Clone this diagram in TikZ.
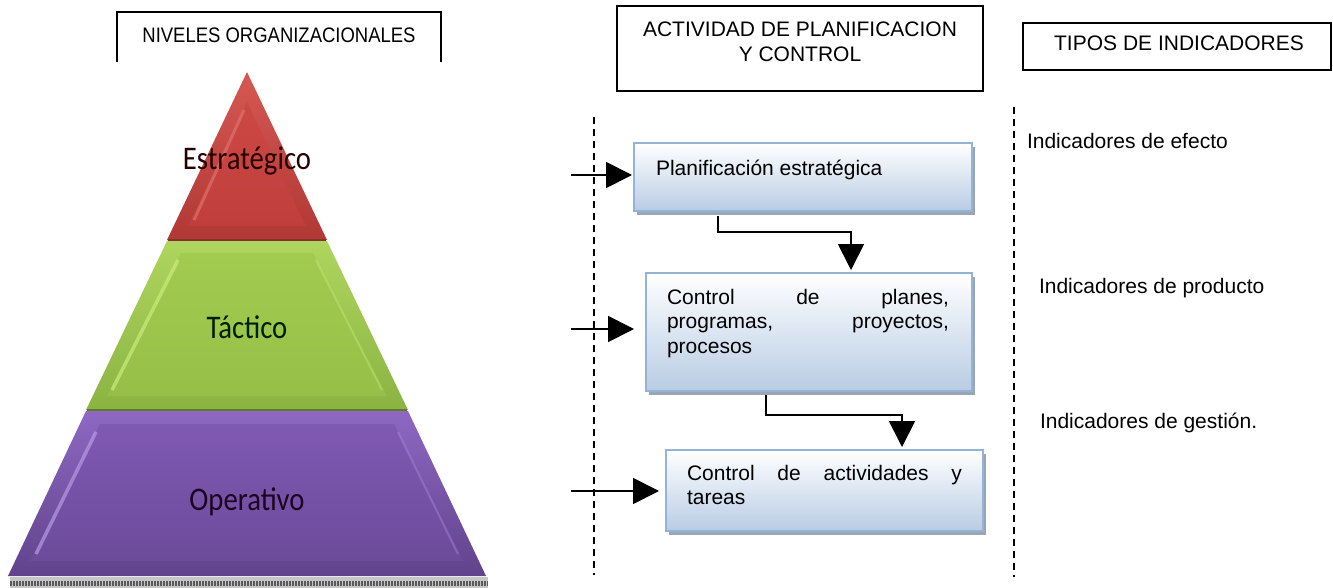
\documentclass[tikz,border=0pt]{standalone}
\usepackage{fontspec}
\setmainfont{Liberation Sans}
\newfontfamily\calib{Carlito}
\usetikzlibrary{arrows.meta,shadows,calc}
\definecolor{redT}{HTML}{D65853}\definecolor{redB}{HTML}{B03835}
\definecolor{redIT}{HTML}{CC4844}\definecolor{redIB}{HTML}{C03F3C}
\definecolor{redHL}{HTML}{EC8B87}\definecolor{redD}{HTML}{8A2F2D}
\definecolor{grnT}{HTML}{AED65E}\definecolor{grnB}{HTML}{8BB342}
\definecolor{grnIT}{HTML}{A2CC50}\definecolor{grnIB}{HTML}{95BF47}
\definecolor{grnHL}{HTML}{D2F283}\definecolor{grnD}{HTML}{5E7A28}
\definecolor{purT}{HTML}{8E68C2}\definecolor{purB}{HTML}{60438C}
\definecolor{purIT}{HTML}{8059B3}\definecolor{purIB}{HTML}{6C4B9B}
\definecolor{purHL}{HTML}{C2A6EE}\definecolor{purD}{HTML}{4E3573}
\definecolor{boxborder}{HTML}{95B3D7}\definecolor{boxbot}{HTML}{B8CCE4}
\definecolor{shadowc}{HTML}{9AA5B5}
\begin{document}
\begin{tikzpicture}[x=1pt,y=-1pt,
  hdr/.style={draw=black, line width=1.6pt, inner sep=0pt, outer sep=0pt},
  txt/.style={inner sep=0pt, outer sep=0pt, font=\fontsize{21}{24.5}\selectfont},
  pbox/.style={draw=boxborder, line width=2.2pt, top color=white, bottom color=boxbot,
    inner sep=0pt, outer sep=0pt,
    general shadow={fill=shadowc, shadow xshift=3pt, shadow yshift=-4pt}},
  conn/.style={line width=1.8pt, -{Triangle[length=26pt,width=26pt]}},
  sepline/.style={line width=1.8pt, dash pattern=on 7pt off 5pt},
  pyr/.style={inner sep=0pt, font=\calib\fontsize{33}{33}\selectfont}
]
\useasboundingbox (0,0) rectangle (1333,588);

% ---------- headers
\draw[line width=1.6pt] (117,62) |- (441,12) -- (441,62);
\node[txt, anchor=base] (h1) at (279,43) {\scalebox{.88}[1]{NIVELES ORGANIZACIONALES}};
\node[hdr, minimum width=366pt, minimum height=85pt] (h2) at (800,48.5) {};
\node[txt, align=center, anchor=north] (h2t) at (800,22) {ACTIVIDAD DE PLANIFICACION\\Y CONTROL};
\node[hdr, minimum width=308pt, minimum height=47pt] (h3) at (1177,46.5) {};
\node[txt, anchor=base] (h3t) at (1179,51) {TIPOS DE INDICADORES};

% ---------- pyramid
% red
\shade[top color=redT, bottom color=redB] (247,72) -- (327,240) -- (167,240) -- cycle;
\shade[top color=redIT, bottom color=redIB] (247,102) -- (306,226) -- (188,226) -- cycle;
\draw[redHL, line width=3pt, opacity=.45] (244,110) -- (194,220);
\draw[redD, line width=2pt] (168,240) -- (326,240);
% green
\shade[top color=grnT, bottom color=grnB] (167,241) -- (327,241) -- (408,410) -- (86,410) -- cycle;
\shade[top color=grnIT, bottom color=grnIB] (181,253) -- (313,253) -- (387,396) -- (107,396) -- cycle;
\draw[grnHL, line width=3.5pt, opacity=.6] (178,260) -- (112,390);
\draw[grnHL, line width=2pt, opacity=.35] (316,260) -- (382,390);
\draw[grnD, line width=2pt] (87,410) -- (407,410);
% purple
\shade[top color=purT, bottom color=purB] (86,411) -- (408,411) -- (486,576) -- (8,576) -- cycle;
\shade[top color=purIT, bottom color=purIB] (100,424) -- (394,424) -- (464,561) -- (30,561) -- cycle;
\draw[purHL, line width=3.5pt, opacity=.6] (96,432) -- (36,554);
\draw[purHL, line width=2pt, opacity=.3] (398,432) -- (458,554);
\fill[gray!45] (10,577) rectangle (488,588);
\draw[black!65, line width=5pt, dash pattern=on 1.5pt off 1.5pt] (10,583) -- (488,583);

\node[pyr, anchor=base, text=black!85!red] (pe) at (247,170) {\scalebox{.87}[1]{Estratégico}};
\node[pyr, anchor=base, text=black!80!green!60!black] (pt) at (247,338) {\scalebox{.87}[1]{Táctico}};
\node[pyr, anchor=base, text=black!75!violet] (po) at (247,510) {\scalebox{.87}[1]{Operativo}};

% ---------- separators
\draw[sepline] (594,117) -- (594,575);
\draw[sepline] (1014,107) -- (1014,577);

% ---------- activity boxes
\node[pbox, minimum width=338pt, minimum height=68pt] (b1) at (803,177) {};
\node[pbox, minimum width=326pt, minimum height=118pt] (b2) at (809,332) {};
\node[pbox, minimum width=317pt, minimum height=81pt] (b3) at (824.5,490.5) {};

\node[txt, anchor=base west] (t1) at (656,176) {Planificación estratégica};
\node[txt, anchor=north west, text width=282pt, align=left] (t2) at (667,289)
  {\makebox[282pt][s]{Control\hfill de\hfill planes,}\\
   \makebox[282pt][s]{programas,\hfill proyectos,}\\
   procesos};
\node[txt, anchor=north west, text width=275pt, align=left] (t3) at (687,465)
  {\makebox[275pt][s]{Control\hfill de\hfill actividades\hfill y}\\
   tareas};

% ---------- input arrows
\coordinate (s1) at (571,175);
\coordinate (s2) at (571,329);
\coordinate (s3) at (571,491);
\draw[conn, shorten >=2pt] (s1) -- (s1 -| b1.west);
\draw[conn, shorten >=12pt] (s2) -- (s2 -| b2.west);
\draw[conn, shorten >=7pt] (s3) -- (s3 -| b3.west);

% ---------- elbow connectors
\draw[conn, shorten >=3pt] ([xshift=84pt,yshift=-5pt]b1.south west)
  -- ([xshift=84pt,yshift=-21pt]b1.south west) -| ([xshift=205pt]b2.north west);
\draw[conn, shorten >=3pt] ([xshift=120pt,yshift=-4pt]b2.south west)
  -- ([xshift=120pt,yshift=-24pt]b2.south west) -| ([xshift=236pt]b3.north west);

% ---------- indicator types
\node[txt, anchor=base west] (i1) at (1027,149) {Indicadores de efecto};
\node[txt, anchor=base west] (i2) at (1039,293) {Indicadores de producto};
\node[txt, anchor=base west] (i3) at (1040,428) {Indicadores de gestión.};
\end{tikzpicture}
\end{document}
